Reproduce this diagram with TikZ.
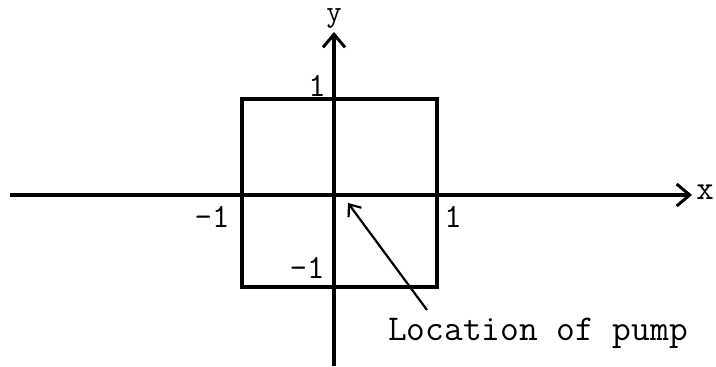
\documentclass[tikz,border=0pt]{standalone}
\usetikzlibrary{arrows.meta}
\begin{document}
\begin{tikzpicture}[x=1bp,y=-1bp,
  axis/.style={line width=3.2bp,-{Straight Barb[length=13bp,width=22bp,line width=3bp]}},
  edge/.style={line width=3.2bp},
  lbl/.style={font=\ttfamily\fontsize{34}{34}\selectfont,inner sep=0pt},
  ptr/.style={line width=2.2bp,-{Straight Barb[length=10bp,width=16bp,line width=2.2bp]}}]
\useasboundingbox (0,0) rectangle (716,366);
\coordinate (xs) at (10,195);
\coordinate (xe) at (692,195);
\coordinate (ys) at (334,366);
\coordinate (ye) at (334,32);
\coordinate (a) at (242,99);
\coordinate (b) at (437,99);
\coordinate (c) at (437,287);
\coordinate (d) at (242,287);
\draw[edge] (a) -- (b) -- (c) -- (d) -- cycle;
\draw[axis] (xs) -- (xe);
\draw[axis] (ys) -- (ye);
\node[lbl] (xl) at (705,192) {x};
\node[lbl,font=\ttfamily\fontsize{30}{30}\selectfont] (yl) at (334,18) {y};
\node[lbl] (one1) at (317,86) {1};
\node[lbl] (m1a) at (212,217) {-1};
\node[lbl] (one2) at (453,217) {1};
\node[lbl] (m1b) at (307,268) {-1};
\node[lbl,anchor=west,font=\ttfamily\fontsize{36.5}{36.5}\selectfont] (loc) at (388,333) {Location of pump};
\coordinate (pt) at (348,203);
\coordinate (ptail) at (427,310);
\draw[ptr] (ptail) -- (pt);
\end{tikzpicture}
\end{document}
